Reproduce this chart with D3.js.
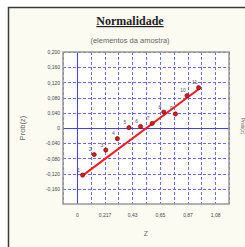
<!DOCTYPE html>
<html>
<head>
<meta charset="utf-8">
<script src="https://cdn.jsdelivr.net/npm/d3@7"></script>
<style>
  body { margin: 0; background: #ffffff; }
  svg { display: block; }
</style>
</head>
<body>
<script>
/////////////////////////////////////////////////
// data
/////////////////////////////////////////////////
var pointLabels = ["1", "2", "3", "4", "5", "6", "7", "8", "9", "10", "11"];
var zValues     = [0.045, 0.136, 0.227, 0.318, 0.409, 0.500, 0.591, 0.682, 0.773, 0.864, 0.955];
var probValues  = [-0.124, -0.070, -0.058, -0.028, 0.001, 0.004, 0.012, 0.042, 0.037, 0.085, 0.106];
var lineZ       = [0.042, 0.970];
var lineProb    = [-0.126, 0.106];

var xTickValues = [0, 0.217, 0.434, 0.651, 0.868, 1.085];
var xTickLabels = ["0", "0,217", "0,43", "0,65", "0,87", "1,08"];
var yTickValues = [0.2, 0.16, 0.12, 0.08, 0.04, 0, -0.04, -0.08, -0.12, -0.16];
var yTickLabels = ["0,200", "0,160", "0,120", "0,080", "0,040", "0", "-0,040", "-0,080", "-0,120", "-0,160"];
var xGridValues = [-0.1085, 0.1085, 0.3255, 0.5425, 0.7595, 0.9765, 1.1935].concat(xTickValues);

/////////////////////////////////////////////////
// locals
/////////////////////////////////////////////////
var width  = 245,
    height = 247;
var plot = { left: 63, right: 229, top: 52, bottom: 204 };
var sans = "Liberation Sans, Arial, sans-serif";

var svg = d3.select("body").append("svg")
  .attr("width", width)
  .attr("height", height);

// panel background + border
svg.append("rect")
  .attr("x", 8).attr("y", 7)
  .attr("width", width - 8).attr("height", height - 7)
  .attr("fill", "#fcfbf2");
svg.append("path")
  .attr("d", "M8.5," + height + "V7.5H" + width)
  .attr("fill", "none")
  .attr("stroke", "#3a3a3a")
  .attr("stroke-width", 1.5);

var x = d3.scaleLinear().domain([-0.1085, 1.1935]).range([plot.left, plot.right]);
var y = d3.scaleLinear().domain([-0.2, 0.2]).range([plot.bottom, plot.top]);

// plot background
svg.append("rect")
  .attr("x", plot.left).attr("y", plot.top)
  .attr("width", plot.right - plot.left).attr("height", plot.bottom - plot.top)
  .attr("fill", "#ffffff");

// dashed grid
var grid = svg.append("g")
  .attr("stroke", "#6a6aff")
  .attr("stroke-width", 1)
  .attr("stroke-dasharray", "3,2");
grid.selectAll("line.h")
  .data(yTickValues.filter(function(d) { return d !== 0; }))
  .enter().append("line")
  .attr("class", "h")
  .attr("x1", plot.left).attr("x2", plot.right)
  .attr("y1", function(d) { return Math.round(y(d)) + 0.5; })
  .attr("y2", function(d) { return Math.round(y(d)) + 0.5; });
grid.selectAll("line.v")
  .data(xGridValues.filter(function(d) { return d !== 0; }))
  .enter().append("line")
  .attr("class", "v")
  .attr("y1", plot.top).attr("y2", plot.bottom)
  .attr("x1", function(d) { return Math.round(x(d)) + 0.5; })
  .attr("x2", function(d) { return Math.round(x(d)) + 0.5; });

// solid zero lines
svg.append("line")
  .attr("x1", plot.left).attr("x2", plot.right)
  .attr("y1", Math.round(y(0)) + 0.5).attr("y2", Math.round(y(0)) + 0.5)
  .attr("stroke", "#4040ff").attr("stroke-width", 1);
svg.append("line")
  .attr("y1", plot.top).attr("y2", plot.bottom)
  .attr("x1", Math.round(x(0)) + 0.5).attr("x2", Math.round(x(0)) + 0.5)
  .attr("stroke", "#4040ff").attr("stroke-width", 1);

// frame
svg.append("rect")
  .attr("x", plot.left).attr("y", plot.top)
  .attr("width", plot.right - plot.left).attr("height", plot.bottom - plot.top)
  .attr("fill", "none")
  .attr("stroke", "#999999")
  .attr("stroke-width", 1.5);

// axes (labels only)
var xAxis = d3.axisBottom(x)
  .tickValues(xTickValues)
  .tickSize(0)
  .tickPadding(9)
  .tickFormat(function(d, i) { return xTickLabels[i]; });
var yAxis = d3.axisLeft(y)
  .tickValues(yTickValues)
  .tickSize(0)
  .tickPadding(3)
  .tickFormat(function(d, i) { return yTickLabels[i]; });

svg.append("g")
  .attr("transform", "translate(0," + plot.bottom + ")")
  .call(xAxis)
  .call(function(g) { g.select(".domain").remove(); });
svg.append("g")
  .attr("transform", "translate(" + plot.left + ",0)")
  .call(yAxis)
  .call(function(g) { g.select(".domain").remove(); });
svg.selectAll(".tick text")
  .attr("font-family", sans)
  .attr("font-size", 5)
  .attr("fill", "#444");

// fitted line
svg.append("line")
  .attr("x1", x(lineZ[0])).attr("y1", y(lineProb[0]))
  .attr("x2", x(lineZ[1])).attr("y2", y(lineProb[1]))
  .attr("stroke", "#ff1a1a")
  .attr("stroke-width", 2);

// points
var pts = svg.selectAll("g.pt")
  .data(zValues.map(function(d, i) { return { z: d, p: probValues[i], label: pointLabels[i] }; }))
  .enter().append("g")
  .attr("class", "pt")
  .attr("transform", function(d) { return "translate(" + x(d.z) + "," + y(d.p) + ")"; });
pts.append("circle")
  .attr("r", 2.1)
  .attr("fill", "#e01818")
  .attr("stroke", "#6a1010")
  .attr("stroke-width", 0.7);
pts.append("text")
  .attr("x", -4)
  .attr("y", -3.5)
  .attr("text-anchor", "middle")
  .attr("font-family", sans)
  .attr("font-size", 5)
  .attr("fill", "#555")
  .text(function(d) { return d.label; });

// titles
svg.append("text")
  .attr("x", 130).attr("y", 25)
  .attr("text-anchor", "middle")
  .attr("font-family", "Liberation Serif, Times New Roman, serif")
  .attr("font-weight", "bold")
  .attr("font-size", 12)
  .attr("text-decoration", "underline")
  .attr("fill", "#222")
  .text("Normalidade");
svg.append("text")
  .attr("x", 130).attr("y", 43)
  .attr("text-anchor", "middle")
  .attr("font-family", sans)
  .attr("font-size", 7.5)
  .attr("fill", "#666")
  .text("(elementos da amostra)");

// axis titles
svg.append("text")
  .attr("x", 146).attr("y", 236)
  .attr("text-anchor", "middle")
  .attr("font-family", sans)
  .attr("font-size", 7)
  .attr("fill", "#666")
  .text("Z");
svg.append("text")
  .attr("transform", "translate(25,128) rotate(-90)")
  .attr("text-anchor", "middle")
  .attr("font-family", sans)
  .attr("font-size", 7.5)
  .attr("fill", "#666")
  .text("Prob(z)");
svg.append("text")
  .attr("transform", "translate(241,126) rotate(90)")
  .attr("text-anchor", "middle")
  .attr("font-family", sans)
  .attr("font-size", 5)
  .attr("fill", "#666")
  .text("Prob(z)");
</script>
</body>
</html>
